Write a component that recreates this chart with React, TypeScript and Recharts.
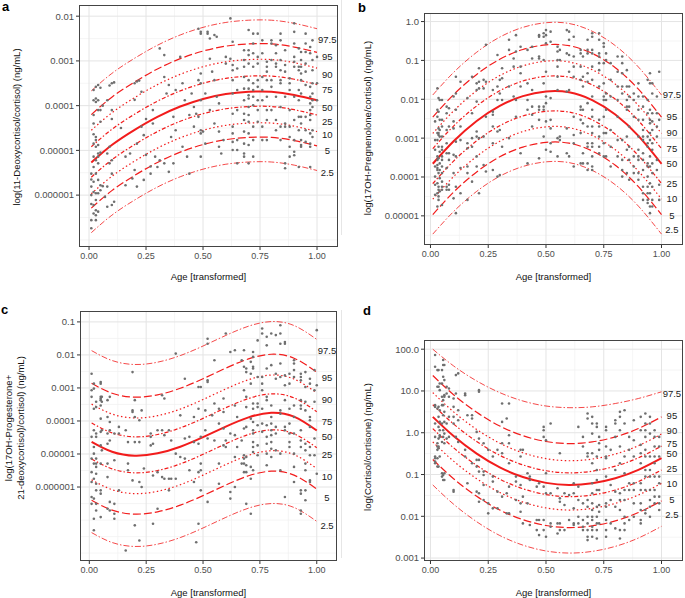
import { ComposedChart, Line, Scatter, XAxis, YAxis, CartesianGrid } from 'recharts';

const FONT = '"Liberation Sans", Arial, Helvetica, sans-serif';

// x positions the percentile curves were read at
const AGE = [0.01, 0.1, 0.2, 0.3, 0.4, 0.5, 0.6, 0.7, 0.8, 0.9, 1.0];
const PCT = ['97.5', '95', '90', '75', '50', '25', '10', '5', '2.5'];
const KEYS = ['q975', 'q95', 'q90', 'q75', 'q50', 'q25', 'q10', 'q05', 'q025'];
const X_TICKS = [0, 0.25, 0.5, 0.75, 1];
const X_MINOR = [0.125, 0.375, 0.625, 0.875];
const LAB_X = 1.045;

// ---- panel a: log10 values ----
const curvesA = [
  [-3.67, -3.28, -2.94, -2.65, -2.42, -2.25, -2.14, -2.09, -2.09, -2.16, -2.28],
  [-4.2, -3.81, -3.47, -3.18, -2.95, -2.78, -2.67, -2.62, -2.62, -2.69, -2.81],
  [-4.55, -4.16, -3.82, -3.53, -3.3, -3.13, -3.02, -2.97, -2.97, -3.04, -3.16],
  [-4.92, -4.53, -4.19, -3.9, -3.67, -3.5, -3.39, -3.34, -3.34, -3.41, -3.53],
  [-5.27, -4.88, -4.54, -4.25, -4.02, -3.85, -3.74, -3.69, -3.69, -3.76, -3.88],
  [-5.6, -5.21, -4.87, -4.58, -4.35, -4.18, -4.07, -4.02, -4.02, -4.09, -4.21],
  [-5.97, -5.58, -5.24, -4.95, -4.72, -4.55, -4.44, -4.39, -4.39, -4.46, -4.58],
  [-6.29, -5.9, -5.56, -5.27, -5.04, -4.87, -4.76, -4.71, -4.71, -4.78, -4.9],
  [-6.84, -6.45, -6.11, -5.82, -5.59, -5.42, -5.31, -5.26, -5.26, -5.33, -5.45],
];
const labelYA = [-2.52, -2.91, -3.3, -3.65, -4.04, -4.36, -4.66, -5.01, -5.5];
const yTicksA = [-6, -5, -4, -3, -2];
const yTickTextA = ['0.000001', '0.00001', '0.0001', '0.001', '0.01'];
const pointsA: [number, number[]][] = [
  [0.01, [-5.52, -5.65, -5.81, -6.0, -6.2, -6.56, -6.74]],
  [0.02, [-3.65, -3.88, -4.21, -4.4, -4.64, -4.85, -5.14, -5.37, -5.7, -5.93, -6.22, -6.41]],
  [0.03, [-3.58, -3.84, -3.92, -4.7, -4.77, -4.92, -5.22, -5.52, -5.96, -6.11, -6.34, -6.45, -6.56]],
  [0.04, [-3.54, -3.88, -4.1, -4.88, -5.07, -5.14, -5.29, -5.66, -5.96, -6.37]],
  [0.05, [-3.6, -4.1, -4.36, -5.05, -5.78, -5.89]],
  [0.06, [-4.0, -5.8]],
  [0.07, [-6.04]],
  [0.08, [-3.88, -5.07, -5.81, -6.26]],
  [0.09, [-3.55, -4.92, -5.29]],
  [0.1, [-3.5, -4.1, -4.3, -5.22, -5.52, -6.22]],
  [0.11, [-3.48, -6.15]],
  [0.14, [-4.5]],
  [0.16, [-5.14, -5.78]],
  [0.18, [-5.07]],
  [0.19, [-5.63]],
  [0.2, [-3.5, -3.87, -5.44]],
  [0.21, [-3.46, -4.85, -5.81]],
  [0.22, [-3.44]],
  [0.23, [-3.69, -4.47]],
  [0.24, [-4.66, -5.66]],
  [0.25, [-4.3, -5.1]],
  [0.27, [-5.36, -5.52]],
  [0.28, [-4.1, -4.4]],
  [0.29, [-5.14]],
  [0.3, [-5.37]],
  [0.31, [-2.72, -5.22]],
  [0.33, [-2.87, -3.36, -5.29]],
  [0.34, [-3.73]],
  [0.35, [-3.54, -5.48]],
  [0.36, [-4.7]],
  [0.37, [-4.25, -5.29]],
  [0.38, [-3.65, -4.55]],
  [0.4, [-2.91]],
  [0.41, [-4.92, -3.5]],
  [0.42, [-3.88]],
  [0.43, [-5.14]],
  [0.44, [-5.52, -4.21]],
  [0.45, [-3.73]],
  [0.46, [-4.47, -4.03]],
  [0.47, [-4.18]],
  [0.48, [-2.28, -3.43, -4.25]],
  [0.49, [-2.35, -2.39, -3.28, -3.5, -3.88, -4.55, -4.62, -5.14]],
  [0.5, [-4.58]],
  [0.51, [-3.73, -4.85]],
  [0.52, [-2.35, -2.39]],
  [0.53, [-2.5, -2.95, -4.1]],
  [0.54, [-3.24]],
  [0.55, [-2.42, -3.43, -4.4]],
  [0.56, [-2.46, -3.8]],
  [0.57, [-3.95, -4.58, -4.92]],
  [0.58, [-5.07]],
  [0.59, [-4.77]],
  [0.6, [-3.06, -2.91]],
  [0.62, [-2.05, -2.95]],
  [0.63, [-2.57, -3.09, -3.21, -3.43, -3.73, -4.18, -4.47, -4.62, -4.81, -4.99]],
  [0.65, [-3.17, -3.65, -4.1, -4.77, -4.99, -5.29]],
  [0.68, [-2.76, -2.98, -3.13, -3.36, -3.62, -3.88, -4.18, -4.32, -4.58, -4.85, -5.07, -5.14]],
  [0.7, [-2.31, -2.76, -2.87, -3.06, -3.43, -3.62, -3.77, -3.84, -4.03, -4.21, -4.36, -4.62, -4.88, -5.29]],
  [0.72, [-2.39, -2.61, -2.83, -3.13, -3.5, -3.65, -3.8, -3.99, -4.47, -4.77, -5.14]],
  [0.74, [-2.39, -2.91, -3.06, -3.43, -3.58, -3.88, -4.1, -4.36]],
  [0.76, [-2.54, -2.83, -3.36, -3.65, -3.88, -4.47, -4.77]],
  [0.78, [-3.02, -3.13, -3.24, -3.43, -3.8, -4.1, -4.32, -4.77]],
  [0.8, [-2.54, -2.61, -2.98, -3.43, -3.58, -4.1]],
  [0.82, [-2.65, -2.83, -3.06, -3.13, -3.8, -4.32, -4.55]],
  [0.84, [-2.39, -2.54, -2.98, -3.21, -3.43, -3.5, -4.03, -4.47, -4.77]],
  [0.86, [-2.76, -3.09, -3.24, -3.8, -4.4, -4.47, -5.29, -5.4]],
  [0.88, [-3.39, -3.5, -3.65, -4.1, -4.47, -4.7, -4.92, -5.14]],
  [0.9, [-2.16, -2.35, -2.61, -2.91, -3.02, -3.13, -3.8, -4.32, -4.77, -5.03, -5.11]],
  [0.92, [-2.72, -3.13, -3.21, -3.65, -3.88, -4.25, -4.55, -5.37]],
  [0.93, [-2.8, -2.98, -3.13, -3.28, -3.43, -3.73, -4.25, -4.4, -4.77, -4.88, -4.92]],
  [0.95, [-2.39, -2.61, -2.8, -3.06, -3.24, -3.54, -4.25, -4.55, -4.81]],
  [0.97, [-2.69, -2.83, -3.58, -3.8, -3.95, -4.1, -4.21, -4.32, -4.62, -4.85, -4.92, -5.37]],
  [0.98, [-2.54, -2.98, -3.21, -3.5, -3.73, -3.88, -4.03, -4.55, -4.7]],
  [1.0, [-2.91, -3.5, -3.88]],
];

// ---- panel b ----
const curvesB = [
  [-1.89, -1.31, -0.79, -0.4, -0.15, -0.03, -0.05, -0.25, -0.62, -1.17, -1.89],
  [-2.46, -1.88, -1.36, -0.97, -0.72, -0.6, -0.62, -0.82, -1.19, -1.74, -2.46],
  [-2.88, -2.3, -1.78, -1.39, -1.14, -1.02, -1.04, -1.24, -1.61, -2.16, -2.88],
  [-3.27, -2.69, -2.17, -1.78, -1.53, -1.41, -1.43, -1.63, -2.0, -2.55, -3.27],
  [-3.66, -3.08, -2.56, -2.17, -1.92, -1.8, -1.82, -2.02, -2.39, -2.94, -3.66],
  [-4.17, -3.59, -3.07, -2.68, -2.43, -2.31, -2.33, -2.53, -2.9, -3.45, -4.17],
  [-4.57, -3.99, -3.47, -3.08, -2.83, -2.71, -2.73, -2.93, -3.3, -3.85, -4.57],
  [-4.97, -4.39, -3.87, -3.48, -3.23, -3.11, -3.13, -3.33, -3.7, -4.25, -4.97],
  [-5.47, -4.89, -4.37, -3.98, -3.73, -3.61, -3.63, -3.83, -4.2, -4.75, -5.47],
];
const labelYB = [-1.89, -2.46, -2.87, -3.28, -3.67, -4.17, -4.57, -4.99, -5.36];
const yTicksB = [-5, -4, -3, -2, -1, 0];
const yTickTextB = ['0.00001', '0.0001', '0.001', '0.01', '0.1', '1.0'];
const pointsB: [number, number[]][] = [
  [0.02, [-2.57, -3.05, -3.3, -3.73, -3.99, -4.2, -4.46]],
  [0.03, [-1.72, -2.27, -2.45, -2.87, -3.05, -3.47, -3.56, -3.69, -3.77, -3.82, -4.16, -4.42, -4.76]],
  [0.035, [-1.97, -2.32, -2.75, -2.87, -2.92, -3.22, -3.52, -3.9, -4.25, -4.33, -4.5, -4.59]],
  [0.04, [-2.02, -2.53, -2.79, -2.96, -3.35, -3.65, -3.82, -4.03, -4.37]],
  [0.05, [-2.02, -2.53, -2.7, -2.96, -3.22, -3.3, -3.47, -3.56, -3.73, -3.9, -4.12, -4.25, -4.33, -4.72]],
  [0.07, [-2.19, -2.36, -2.79, -3.13, -3.39, -3.77, -4.25, -4.33]],
  [0.08, [-2.23, -2.7, -3.39, -3.56, -4.2, -4.33]],
  [0.1, [-1.93, -2.57, -2.75, -3.43, -3.9, -4.55]],
  [0.11, [-1.42, -1.85, -2.27, -3.09, -3.47, -4.25, -4.93]],
  [0.13, [-1.55, -2.7, -3.05, -3.77, -4.42]],
  [0.16, [-1.97, -3.13, -3.26, -3.73, -3.9, -4.59]],
  [0.18, [-1.42, -2.36, -3.0, -3.22, -4.12]],
  [0.2, [-1.59, -1.76, -2.06, -2.83, -2.96, -3.47, -3.73]],
  [0.21, [-1.2, -1.55, -1.72, -3.0, -4.42]],
  [0.23, [-1.5, -1.72, -2.96, -3.69]],
  [0.24, [-0.6, -1.55, -2.45, -3.86]],
  [0.27, [-1.76, -2.32, -2.4, -2.7, -3.13, -3.82]],
  [0.29, [-0.86, -1.67, -2.02, -2.83, -3.99]],
  [0.3, [-1.5, -1.85, -2.79, -3.95]],
  [0.31, [-1.2, -1.46, -2.02, -3.22]],
  [0.34, [-0.47, -0.73, -1.67, -3.0]],
  [0.36, [-0.95, -1.16, -1.93]],
  [0.37, [-0.35, -0.77, -2.02, -2.45]],
  [0.39, [-0.65, -1.16, -1.33, -1.67, -3.39]],
  [0.42, [-0.73, -1.59, -2.02, -2.27, -3.65]],
  [0.44, [-0.65, -0.95, -1.76, -2.19, -2.4, -2.7]],
  [0.47, [-0.35, -0.39, -0.9, -0.95, -2.19, -2.27, -2.53, -3.52]],
  [0.49, [-0.3, -0.39, -0.99, -1.59, -2.19, -2.27, -2.96]],
  [0.5, [-0.22, -0.35, -0.56, -1.29, -1.93, -2.1, -2.57, -3.3]],
  [0.52, [-0.26, -0.52, -1.97, -2.53, -2.75, -3.13, -3.35]],
  [0.55, [-0.65, -0.77, -0.99, -1.16, -1.42, -1.76, -3.0, -3.47]],
  [0.56, [-0.73, -0.99, -2.96, -3.05]],
  [0.59, [-0.22, -0.82, -1.8, -2.75, -3.39]],
  [0.6, [-0.26, -0.47, -0.86, -1.29, -1.76, -3.47]],
  [0.62, [-0.39, -0.9, -1.16, -1.42, -2.45, -2.92, -3.13, -3.73]],
  [0.65, [-0.73, -0.82, -1.16, -1.5, -2.19, -2.27, -2.53, -2.87, -3.65]],
  [0.66, [-0.9, -1.42, -1.67, -2.27, -2.62, -3.39, -3.65]],
  [0.68, [-0.47, -0.73, -0.82, -1.33, -1.55, -2.1, -2.7, -3.13, -3.22, -3.65, -3.82]],
  [0.7, [-0.3, -0.39, -0.73, -0.82, -1.16, -1.5, -1.93, -2.27, -2.45, -2.7, -2.87, -3.13, -3.22, -3.47, -3.73, -3.82]],
  [0.73, [-0.3, -0.47, -0.82, -0.9, -1.07, -1.25, -1.67, -2.53, -2.7, -2.96, -3.22, -3.39]],
  [0.75, [-0.56, -0.65, -1.07, -1.59, -1.93, -2.02, -2.45, -2.87, -3.13, -3.47]],
  [0.76, [-0.82, -0.99, -1.85, -2.02, -2.27, -2.87, -3.47]],
  [0.78, [-1.07, -1.5, -1.93, -2.79, -3.22, -3.73]],
  [0.81, [-0.9, -1.29, -1.67, -2.02, -2.45, -3.05, -3.47]],
  [0.83, [-0.9, -1.07, -1.33, -1.67, -1.85, -3.05, -3.56, -3.82, -3.99]],
  [0.85, [-1.25, -1.67, -2.02, -2.19, -2.27, -2.96, -3.3, -3.9]],
  [0.86, [-1.67, -1.93, -2.19, -2.7, -3.22, -3.56, -4.07]],
  [0.88, [-1.85, -2.02, -2.45, -3.47, -3.73, -3.9]],
  [0.9, [-1.59, -1.93, -2.27, -2.53, -2.96, -3.3, -3.47, -3.56, -3.9, -4.07]],
  [0.92, [-1.93, -2.19, -2.53, -2.79, -2.96, -3.05, -3.39, -3.56, -3.82, -4.25, -4.42, -4.59]],
  [0.94, [-1.5, -2.02, -2.36, -2.96, -3.13, -3.22, -3.65, -3.73, -3.99, -4.25, -4.42, -4.59, -4.67]],
  [0.95, [-1.33, -1.59, -2.27, -2.53, -2.62, -2.87, -3.05, -3.47, -3.73, -4.16, -4.42, -4.76, -4.93]],
  [0.96, [-1.59, -1.85, -2.36, -2.57, -2.79, -3.13, -3.3, -3.65, -3.9, -4.25, -4.59, -4.76]],
  [0.98, [-1.93, -2.36, -2.7, -2.96, -3.56, -3.82]],
  [0.99, [-1.29, -2.53, -4.2, -4.59]],
];

// ---- panel c ----
const curvesC = [
  [-1.87, -2.17, -2.29, -2.22, -2.02, -1.73, -1.41, -1.13, -0.99, -1.11, -1.53],
  [-2.86, -3.16, -3.28, -3.21, -3.01, -2.72, -2.4, -2.12, -1.98, -2.1, -2.52],
  [-3.49, -3.79, -3.91, -3.84, -3.64, -3.35, -3.03, -2.75, -2.61, -2.73, -3.15],
  [-4.06, -4.36, -4.48, -4.41, -4.21, -3.92, -3.6, -3.32, -3.18, -3.3, -3.72],
  [-4.63, -4.93, -5.05, -4.98, -4.78, -4.49, -4.17, -3.89, -3.75, -3.87, -4.29],
  [-5.15, -5.45, -5.57, -5.5, -5.3, -5.01, -4.69, -4.41, -4.27, -4.39, -4.81],
  [-5.78, -6.08, -6.2, -6.13, -5.93, -5.64, -5.32, -5.04, -4.9, -5.02, -5.44],
  [-6.4, -6.7, -6.82, -6.75, -6.55, -6.26, -5.94, -5.66, -5.52, -5.64, -6.06],
  [-7.38, -7.68, -7.8, -7.73, -7.53, -7.24, -6.92, -6.64, -6.5, -6.62, -7.04],
];
const labelYC = [-1.86, -2.68, -3.37, -4.02, -4.47, -5.03, -5.7, -6.33, -7.16];
const yTicksC = [-6, -5, -4, -3, -2, -1];
const yTickTextC = ['0.000001', '0.00001', '0.0001', '0.001', '0.01', '0.1'];
const pointsC: [number, number[]][] = [
  [0.01, [-2.57, -3.07, -3.27, -4.48, -5.14, -5.55, -5.85, -6.3, -6.51]],
  [0.02, [-2.87, -3.02, -3.63, -4.28, -4.79, -4.99, -5.29, -5.75, -6.35, -6.96, -7.31]],
  [0.03, [-3.42, -3.58, -4.38, -4.48, -5.14, -5.29, -5.39, -5.6, -5.9, -6.1, -6.51, -6.71]],
  [0.05, [-2.82, -2.87, -3.27, -3.32, -3.37, -3.53, -3.93, -4.33, -4.74, -5.29, -6.1, -6.2, -6.91]],
  [0.055, [-3.27, -3.42, -4.28, -4.89]],
  [0.08, [-3.37, -3.88, -4.38, -4.69, -5.29, -5.7, -6.66]],
  [0.09, [-3.27, -4.03, -4.28, -4.59, -6.45, -6.71]],
  [0.11, [-4.38, -5.19, -6.51, -6.81, -6.96]],
  [0.13, [-4.18, -4.38, -6.1]],
  [0.16, [-4.28, -7.92]],
  [0.17, [-4.64, -5.29, -5.49]],
  [0.19, [-2.52, -3.68, -3.73, -5.8]],
  [0.2, [-3.37, -3.88, -4.64, -7.16]],
  [0.22, [-3.98, -4.64, -5.85, -7.62]],
  [0.23, [-3.68, -6.0]],
  [0.24, [-5.44]],
  [0.27, [-4.38, -4.48, -4.74]],
  [0.28, [-4.69, -5.65, -7.11]],
  [0.3, [-4.28, -5.55, -6.66]],
  [0.32, [-3.22, -4.28, -5.7]],
  [0.33, [-3.32, -4.43, -5.75]],
  [0.35, [-4.28, -5.75, -6.1]],
  [0.36, [-4.59, -5.75]],
  [0.38, [-5.75, -1.96, -4.99]],
  [0.4, [-3.83, -5.09]],
  [0.42, [-2.72, -4.53, -5.14]],
  [0.44, [-4.48, -5.49]],
  [0.46, [-3.88, -4.64, -5.85]],
  [0.47, [-7.67]],
  [0.48, [-2.97, -3.63, -4.69, -5.55, -7.11]],
  [0.49, [-2.97, -4.48, -5.29, -5.49, -6.1]],
  [0.51, [-3.68, -4.28]],
  [0.52, [-1.51, -1.66, -2.77, -2.82, -4.53, -6.45]],
  [0.54, [-3.83]],
  [0.55, [-2.16, -3.47, -4.59]],
  [0.57, [-3.63, -5.29, -4.08, -5.9]],
  [0.59, [-3.32, -3.73, -4.23, -4.74]],
  [0.6, [-1.35, -4.59, -4.79]],
  [0.62, [-1.91, -4.38, -6.15, -6.35]],
  [0.64, [-1.86, -3.53, -4.43, -5.09, -6.0]],
  [0.65, [-3.88, -4.79]],
  [0.67, [-2.16, -4.59, -5.29]],
  [0.68, [-1.86, -2.36, -3.07, -4.23, -5.04, -5.14, -5.29, -5.55]],
  [0.69, [-2.41, -2.52, -3.27, -3.58, -4.18, -5.09, -5.34, -5.55, -6.51]],
  [0.71, [-2.21, -2.57, -2.87, -3.93, -5.39, -5.75, -6.81]],
  [0.72, [-1.91, -2.06, -2.36, -2.41, -3.47, -3.63, -4.03, -4.28, -4.38, -4.64, -4.79, -4.94, -5.49]],
  [0.74, [-1.56, -2.67, -3.47, -3.58, -4.13, -4.74, -5.04]],
  [0.76, [-1.2, -1.35, -2.67, -2.87, -3.07, -3.63, -4.08, -4.33]],
  [0.78, [-1.45, -1.71, -2.41, -3.27, -3.37, -4.13, -4.48, -4.69, -4.99, -5.34]],
  [0.8, [-1.35, -2.31, -3.53, -3.88, -4.08, -4.28, -4.43, -4.64, -4.84, -5.09]],
  [0.82, [-1.4, -2.57, -2.72, -4.18, -4.38, -4.89]],
  [0.84, [-1.1, -1.35, -1.66, -2.26, -2.67, -3.68, -3.78, -4.99, -5.49]],
  [0.86, [-1.61, -1.66, -2.62, -2.92, -3.37, -4.18, -4.28, -6.3]],
  [0.88, [-2.57, -2.87, -3.63, -4.08, -4.38, -4.64, -4.79]],
  [0.9, [-2.16, -2.26, -2.46, -2.67, -3.53, -3.88, -4.38, -4.99, -5.39, -5.85]],
  [0.93, [-2.57, -2.67, -2.77, -3.37, -3.53, -3.63, -4.28, -4.59, -4.79, -6.1, -6.2, -6.71, -6.81]],
  [0.95, [-2.52, -2.97, -3.42, -3.68, -4.69, -4.89, -5.29, -5.49, -6.1, -6.4]],
  [0.97, [-2.72, -2.87, -3.88, -3.98, -4.18, -4.79, -5.04, -5.8, -5.85]],
  [0.99, [-2.46, -3.07, -3.42, -4.53, -5.04]],
  [1.0, [-1.25, -2.92, -5.6]],
];

// ---- panel d ----
const curvesD = [
  [2.0, 1.6, 1.24, 0.96, 0.76, 0.64, 0.6, 0.62, 0.7, 0.82, 0.98],
  [1.37, 0.91, 0.49, 0.16, -0.07, -0.21, -0.26, -0.22, -0.1, 0.1, 0.38],
  [0.96, 0.5, 0.08, -0.25, -0.48, -0.62, -0.67, -0.63, -0.51, -0.31, -0.03],
  [0.67, 0.21, -0.21, -0.54, -0.77, -0.91, -0.96, -0.92, -0.8, -0.6, -0.32],
  [0.38, -0.08, -0.5, -0.83, -1.06, -1.2, -1.25, -1.21, -1.09, -0.89, -0.61],
  [0.1, -0.36, -0.78, -1.11, -1.34, -1.48, -1.53, -1.49, -1.37, -1.17, -0.89],
  [-0.22, -0.68, -1.1, -1.43, -1.66, -1.8, -1.85, -1.81, -1.69, -1.49, -1.21],
  [-0.64, -1.1, -1.52, -1.85, -2.08, -2.22, -2.27, -2.23, -2.11, -1.91, -1.63],
  [-1.25, -1.71, -2.13, -2.46, -2.69, -2.83, -2.88, -2.84, -2.72, -2.52, -2.24],
];
const labelYD = [0.94, 0.42, 0.04, -0.27, -0.51, -0.87, -1.21, -1.61, -1.96];
const yTicksD = [-3, -2, -1, 0, 1, 2];
const yTickTextD = ['0.001', '0.01', '0.1', '1.0', '10.0', '100.0'];
const pointsD: [number, number[]][] = [
  [0.02, [1.86, 1.58, 0.66, 0.62, 0.22, -0.1, -0.57, -0.61, -0.69, -0.73]],
  [0.03, [1.5, 1.1, 0.58, -0.25, -0.33, -0.41, -0.61, -0.81]],
  [0.035, [1.5, 1.1, 0.62, 0.38, 0.14, -0.14, -0.33, -0.37, -0.81]],
  [0.04, [1.18, 1.02, 0.54, 0.26, 0.06, -0.06, -0.1, -0.57]],
  [0.05, [1.5, 1.18, 0.86, 0.66, 0.22, -0.22, -0.97, -1.05]],
  [0.055, [1.74, 1.62, 1.34, 0.78, 0.66, 0.42, 0.06, -0.1, -1.01, -1.13]],
  [0.06, [1.62, 1.26, 0.9, 0.86, 0.5, 0.26, -0.02, -0.25, -0.97, -1.13]],
  [0.07, [1.1, 0.94, 0.22, -0.14]],
  [0.08, [1.06, 0.86, 0.38, -0.1]],
  [0.1, [0.82, 0.62, 0.38, 0.22, -1.37, -1.41]],
  [0.11, [1.38, 0.94, -0.1]],
  [0.12, [1.42, 0.54, 0.3, -0.22]],
  [0.15, [0.94, 0.9, -0.41, -0.57]],
  [0.16, [0.42, -1.21]],
  [0.18, [0.42, 0.34, -0.73]],
  [0.2, [0.02, -0.65, -0.81, -1.41]],
  [0.21, [1.02, 0.98, -0.14, -0.65, -0.93, -1.45, -1.65]],
  [0.23, [-0.25, -0.93, -1.01, -1.25, -1.61]],
  [0.25, [-0.41, -1.69, -1.93]],
  [0.27, [-0.57, -1.05, -1.17, -1.81]],
  [0.29, [-0.41, -1.41, -1.81]],
  [0.31, [0.7, 0.26, -0.25, -0.49, -1.53]],
  [0.33, [0.34, -1.45, -1.93]],
  [0.34, [0.7, -0.06, -0.25, -0.73, -1.29, -1.93]],
  [0.37, [-1.05, -1.17, -1.61]],
  [0.39, [-0.41, -0.57, -1.25, -1.69, -1.89]],
  [0.4, [-0.41, -1.53, -2.17]],
  [0.42, [-0.97, -1.69]],
  [0.43, [-1.05, -1.13, -2.21]],
  [0.46, [-1.29, -2.09, -2.33]],
  [0.47, [-1.21, -2.09, -2.45]],
  [0.49, [0.14, 0.06, -0.1, -1.29, -2.09, -2.33]],
  [0.5, [-0.18, -0.97, -1.45, -2.49]],
  [0.52, [0.22, -1.45, -2.17, -2.25]],
  [0.55, [-1.33, -2.17, -2.41]],
  [0.56, [-0.49, -1.57, -1.65, -2.17, -2.33]],
  [0.58, [-1.45, -1.73, -2.33]],
  [0.6, [-1.49, -2.09]],
  [0.62, [-1.21, -1.45, -1.81, -2.17, -2.21]],
  [0.64, [0.14, -1.29, -1.61, -2.01, -2.17]],
  [0.66, [-0.1, -0.33, -1.69, -2.09, -2.25, -2.33]],
  [0.68, [0.46, 0.34, -0.49, -0.57, -1.61, -1.77, -2.01, -2.17, -2.33, -2.49, -2.57]],
  [0.7, [0.38, 0.22, -0.02, -0.49, -0.73, -1.21, -1.45, -1.69, -1.85, -2.01, -2.09, -2.25, -2.33, -2.49]],
  [0.72, [0.22, 0.14, -0.57, -0.89, -1.13, -1.37, -1.77, -2.01, -2.17, -2.33, -2.53]],
  [0.73, [-0.1, -0.25, -0.41, -1.37, -1.73, -1.89, -2.17]],
  [0.76, [0.14, 0.06, -0.33, -0.57, -0.61, -1.05, -1.69, -1.77, -2.09, -2.33, -2.49]],
  [0.78, [-0.41, -1.25, -1.61, -2.17]],
  [0.8, [0.3, 0.22, -0.1, -0.89, -1.41, -1.77, -2.29]],
  [0.82, [0.5, 0.38, 0.06, -0.33, -0.73, -1.45, -1.61, -1.85, -2.33, -2.53]],
  [0.84, [0.54, 0.22, -0.57, -0.97, -1.37, -1.61, -2.01, -2.17, -2.33]],
  [0.86, [-0.1, -0.41, -1.21, -1.37, -2.09]],
  [0.88, [0.3, -0.18, -0.57, -1.21, -1.37, -1.69, -2.01]],
  [0.91, [0.38, 0.06, -0.29, -0.49, -0.73, -1.21, -1.37, -1.69, -1.85, -2.09, -2.17]],
  [0.93, [0.46, 0.22, 0.06, -0.1, -0.41, -0.57, -0.89, -1.05, -1.37, -1.85, -1.93]],
  [0.95, [0.38, 0.22, -0.02, -0.57, -0.89, -1.05, -1.37, -1.61, -1.77, -2.01]],
  [0.97, [0.06, -0.1, -0.33, -0.57, -0.73, -1.05, -1.37, -1.53, -1.69]],
  [0.99, [-0.1, -0.33, -0.57, -1.05, -1.21, -1.53, -1.69, -1.85]],
];

const RED = '#f21c1c';
const LINE_STYLE = [
  { dash: '6 2 1.5 2', w: 1, o: 0.8 },
  { dash: '8 3', w: 1.2, o: 1 },
  { dash: '1.5 2.5', w: 1.2, o: 1 },
  { dash: '4 2 1.5 2', w: 1.2, o: 1 },
  { dash: undefined, w: 2, o: 1 },
  { dash: '4 2 1.5 2', w: 1.2, o: 1 },
  { dash: '1.5 2.5', w: 1.2, o: 1 },
  { dash: '8 3', w: 1.2, o: 1 },
  { dash: '6 2 1.5 2', w: 1, o: 0.8 },
];

const buildTable = (curves: number[][]) =>
  AGE.map((x, i) => {
    const row: Record<string, number> = { x };
    KEYS.forEach((k, j) => { row[k] = curves[j][i]; });
    return row;
  });
const flatPoints = (groups: [number, number[]][]) => groups.flatMap(([x, ys]) => ys.map((y) => ({ x, y })));
const labelRows = (ys: number[]) => PCT.map((t, i) => ({ x: LAB_X, y: ys[i], t }));

const Dot = (p: any) => <circle cx={p.cx} cy={p.cy} r={1.3} fill="#6f6f6f" />;
const PctText = (p: any) => (
  <text x={p.cx} y={p.cy} dy="0.35em" textAnchor="middle" fontSize={9.5} fontFamily={FONT} fill="#1a1a1a">
    {p.payload.t}
  </text>
);

interface PanelProps {
  letter: string;
  left: number; top: number; width: number; height: number;
  mTop: number; yw: number; xh: number; xOff: number;
  xDom: [number, number]; yDom: [number, number];
  yTicks: number[]; yText: string[]; yMinor: number[];
  curves: number[][]; points: [number, number[]][]; labelY: number[];
  title: string[]; titleX: number; titleY: number; letterX: number; letterY: number;
}

function Panel(p: PanelProps) {
  const table = buildTable(p.curves);
  const pts = flatPoints(p.points);
  const labs = labelRows(p.labelY);
  const boxLeft = p.left + p.yw;
  const boxTop = p.top + p.mTop;
  const boxW = p.width - 1 - p.yw;
  const boxH = p.height - p.mTop - p.xh;
  return (
    <>
      <div style={{ position: 'absolute', left: p.left, top: p.top }}>
        <ComposedChart width={p.width} height={p.height} data={table} margin={{ top: p.mTop, right: 1, bottom: 0, left: 0 }}>
          <CartesianGrid stroke="#f1f1f1" strokeWidth={0.7} horizontalValues={p.yMinor} verticalValues={X_MINOR} />
          <CartesianGrid stroke="#e4e4e4" strokeWidth={1} horizontalValues={p.yTicks} verticalValues={X_TICKS} />
          <XAxis
            type="number" dataKey="x" domain={p.xDom} ticks={X_TICKS} interval={0} allowDataOverflow
            tickFormatter={(v: number) => v.toFixed(2)} axisLine={false} tickSize={3} tickMargin={3}
            tickLine={{ stroke: '#333' }} height={p.xh}
            tick={{ fontSize: 9, fill: '#4d4d4d', fontFamily: FONT }}
            label={{ value: 'Age [transformed]', position: 'insideBottom', offset: p.xOff, fontSize: 9.5, fill: '#111', fontFamily: FONT }}
          />
          <YAxis
            type="number" domain={p.yDom} ticks={p.yTicks} interval={0} allowDataOverflow width={p.yw}
            tickFormatter={(v: number) => p.yText[p.yTicks.indexOf(v)] ?? ''} axisLine={false}
            tickSize={3} tickMargin={2} tickLine={{ stroke: '#333' }}
            tick={{ fontSize: 9.5, fill: '#4d4d4d', fontFamily: FONT }}
          />
          <Scatter data={pts} dataKey="y" shape={Dot} isAnimationActive={false} />
          {KEYS.map((k, i) => (
            <Line
              key={k} dataKey={k} type="natural" stroke={RED} strokeWidth={LINE_STYLE[i].w}
              strokeOpacity={LINE_STYLE[i].o} strokeDasharray={LINE_STYLE[i].dash}
              dot={false} activeDot={false} isAnimationActive={false}
            />
          ))}
          <Scatter data={labs} dataKey="y" shape={PctText} isAnimationActive={false} />
        </ComposedChart>
      </div>
      <div style={{ position: 'absolute', left: boxLeft, top: boxTop, width: boxW, height: boxH, border: '1px solid #444', boxSizing: 'border-box', pointerEvents: 'none' }} />
      <div style={{ position: 'absolute', left: p.letterX, top: p.letterY, fontFamily: FONT, fontWeight: 'bold', fontSize: 13, lineHeight: 1 }}>{p.letter}</div>
      <div
        style={{
          position: 'absolute', left: p.titleX, top: p.titleY, transform: 'translate(-50%, -50%) rotate(-90deg)',
          whiteSpace: 'nowrap', fontFamily: FONT, fontSize: 9.5, lineHeight: 1.3, textAlign: 'center', color: '#111',
        }}
      >
        {p.title.map((t) => <div key={t}>{t}</div>)}
      </div>
    </>
  );
}

export default function App() {
  return (
    <div style={{ position: 'absolute', left: 0, top: 0, width: 685, height: 598, background: '#fff', overflow: 'hidden' }}>
      <div style={{ position: 'absolute', left: 341, top: 0, width: 1, height: 235, background: '#e6e6e6' }} />
      <div style={{ position: 'absolute', left: 341, top: 310, width: 1, height: 248, background: '#e6e6e6' }} />
      <Panel
        letter="a" left={0} top={0} width={339} height={290} mTop={5} yw={79} xh={43} xOff={10.5}
        xDom={[-0.044, 1.092]} yDom={[-7.16, -1.75]} yTicks={yTicksA} yText={yTickTextA}
        yMinor={[-7, -6.5, -5.5, -4.5, -3.5, -2.5]} curves={curvesA} points={pointsA} labelY={labelYA}
        title={['log(11-Deoxycortisol/cortisol) (ng/mL)']} titleX={17} titleY={127} letterX={2} letterY={0}
      />
      <Panel
        letter="b" left={372} top={0} width={312} height={290} mTop={13} yw={52} xh={45} xOff={10.5}
        xDom={[-0.028, 1.093]} yDom={[-5.75, 0.22]} yTicks={yTicksB} yText={yTickTextB}
        yMinor={[-5.5, -4.5, -3.5, -2.5, -1.5, -0.5]} curves={curvesB} points={pointsB} labelY={labelYB}
        title={['log(17OH-Pregnenolone/cortisol) (ng/mL)']} titleX={368} titleY={128} letterX={358} letterY={1}
      />
      <Panel
        letter="c" left={0} top={290} width={338} height={308} mTop={21} yw={80} xh={37} xOff={2.5}
        xDom={[-0.041, 1.089]} yDom={[-8.24, -0.67]} yTicks={yTicksC} yText={yTickTextC}
        yMinor={[-8, -7.5, -7, -6.5, -5.5, -4.5, -3.5, -2.5, -1.5]} curves={curvesC} points={pointsC} labelY={labelYC}
        title={['log(17OH-Progesterone+', '21-deoxycortisol)/cortisol) (ng/mL)']} titleX={15} titleY={428} letterX={1} letterY={303}
      />
      <Panel
        letter="d" left={372} top={290} width={312} height={308} mTop={50} yw={52} xh={37} xOff={2.5}
        xDom={[-0.028, 1.093]} yDom={[-3.07, 2.22]} yTicks={yTicksD} yText={yTickTextD}
        yMinor={[-2.5, -1.5, -0.5, 0.5, 1.5]} curves={curvesD} points={pointsD} labelY={labelYD}
        title={['log(Cortisol/cortisone) (ng/mL)']} titleX={368} titleY={447} letterX={363} letterY={304}
      />
    </div>
  );
}
